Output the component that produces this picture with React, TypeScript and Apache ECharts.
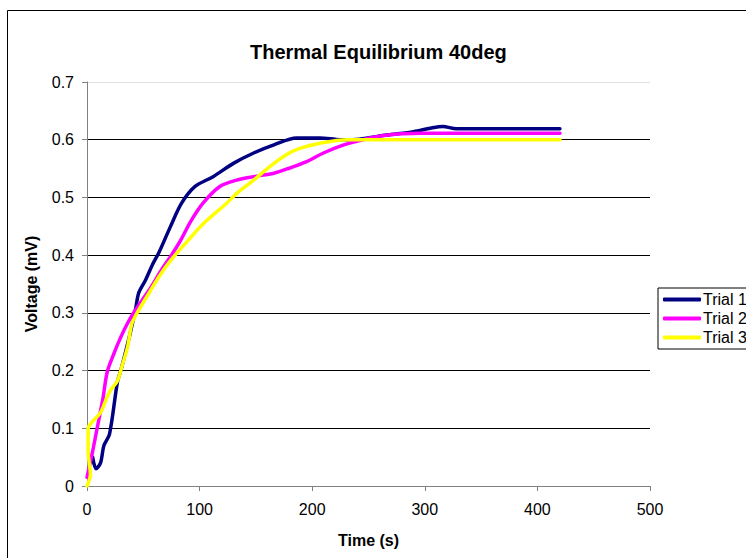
import React, { useEffect, useRef } from "react";
import * as echarts from "echarts";

const chartTitle = "Thermal Equilibrium 40deg";
const xName = "Time (s)";
const yName = "Voltage (mV)";
const seriesNames = ["Trial 1", "Trial 2", "Trial 3"];
const seriesColors = ["#000080", "#FF00FF", "#FFFF00"];

const trial1Time = [5, 8, 12, 15, 20, 27, 30, 34, 39, 43, 46, 52, 58, 64, 74, 84, 96, 112, 130, 148, 166, 186, 207, 225, 242, 266, 290, 305, 316, 328, 420];
const trial1Volt = [0.05, 0.03, 0.04, 0.07, 0.09, 0.18, 0.2, 0.23, 0.27, 0.305, 0.335, 0.357, 0.383, 0.405, 0.449, 0.49, 0.519, 0.536, 0.559, 0.577, 0.591, 0.603, 0.603, 0.600, 0.601, 0.608, 0.614, 0.620, 0.623, 0.619, 0.619];

const trial2Time = [0, 5, 9, 14, 18, 24, 30, 36, 42, 49, 57, 66, 75, 83, 92, 103, 118, 133, 148, 166, 180, 195, 210, 228, 245, 262, 296, 420];
const trial2Volt = [0.015, 0.06, 0.10, 0.15, 0.198, 0.23, 0.258, 0.282, 0.302, 0.322, 0.345, 0.374, 0.40, 0.425, 0.458, 0.49, 0.519, 0.53, 0.536, 0.542, 0.551, 0.562, 0.577, 0.591, 0.6, 0.607, 0.611, 0.611];

const trial3Time = [0, 3, 1, 1, 6, 12, 17, 21, 27, 31, 36, 40, 46, 55, 64, 74, 85, 102, 124, 133, 148, 162, 177, 189, 207, 231, 420];
const trial3Volt = [0, 0.02, 0.06, 0.1, 0.114, 0.127, 0.15, 0.166, 0.182, 0.207, 0.241, 0.282, 0.305, 0.334, 0.363, 0.39, 0.415, 0.452, 0.49, 0.507, 0.53, 0.553, 0.574, 0.585, 0.594, 0.6, 0.6];

const xTicks = { min: 0, max: 500, interval: 100 };
const yTicks = { min: 0, max: 0.7, interval: 0.1 };

const FONT = "'Liberation Sans', Arial, sans-serif";

export default function App() {
  const ref = useRef<HTMLDivElement>(null);
  useEffect(() => {
    if (!ref.current) return;
    const chart = echarts.init(ref.current, undefined, { renderer: "svg" });
    const times = [trial1Time, trial2Time, trial3Time];
    const volts = [trial1Volt, trial2Volt, trial3Volt];
    chart.setOption({
      animation: false,
      backgroundColor: "#fff",
      title: {
        text: chartTitle,
        left: 250,
        top: 42,
        textStyle: { fontFamily: FONT, fontSize: 20, fontWeight: "bold", color: "#000" },
        padding: 0,
      },
      graphic: [
        {
          type: "rect",
          shape: { x: 7.5, y: 10.5, width: 800, height: 600 },
          style: { fill: "none", stroke: "#000", lineWidth: 1 },
          z: -1,
          silent: true,
        },
      ],
      legend: {
        orient: "vertical",
        left: 658,
        top: 288,
        padding: [2, 40, 2, 5],
        itemGap: 0,
        itemWidth: 38,
        itemHeight: 4,
        icon: "roundRect",
        borderColor: "#000",
        borderWidth: 1,
        backgroundColor: "#fff",
        textStyle: { fontFamily: FONT, fontSize: 16, lineHeight: 19, color: "#000", padding: [0, 0, 0, -3] },
        data: seriesNames,
      },
      grid: { left: 87, right: 96, top: 82, bottom: 72, containLabel: false },
      xAxis: {
        type: "value",
        ...xTicks,
        name: xName,
        nameLocation: "middle",
        nameGap: 46,
        nameTextStyle: { fontFamily: FONT, fontSize: 16, fontWeight: "bold", color: "#000" },
        axisLine: { show: true, lineStyle: { color: "#808080", width: 1 } },
        axisTick: { show: true, length: 5, lineStyle: { color: "#808080" } },
        axisLabel: { fontFamily: FONT, fontSize: 16, color: "#000", margin: 15 },
        splitLine: { show: false },
      },
      yAxis: {
        type: "value",
        ...yTicks,
        name: yName,
        nameLocation: "middle",
        nameGap: 48,
        nameTextStyle: { fontFamily: FONT, fontSize: 16, fontWeight: "bold", color: "#000" },
        axisLine: { show: true, lineStyle: { color: "#808080", width: 1 } },
        axisTick: { show: true, length: 5, lineStyle: { color: "#808080" } },
        axisLabel: { fontFamily: FONT, fontSize: 16, color: "#000", margin: 13 },
        splitLine: {
          show: true,
          lineStyle: { color: ["#000", "#000", "#000", "#000", "#000", "#000", "#000", "#e0e0e0"], width: 1 },
        },
      },
      series: seriesNames.map((name, i) => ({
        name,
        type: "line",
        showSymbol: false,
        symbol: "none",
        smooth: 0.3,
        color: seriesColors[i],
        lineStyle: { color: seriesColors[i], width: 3.5, cap: "round", join: "round" },
        data: times[i].map((t, j) => [t, volts[i][j]]),
        z: 3 + i,
      })),
    });
    return () => chart.dispose();
  }, []);
  return (
    <div
      ref={ref}
      style={{ position: "fixed", left: 0, top: 0, width: 746, height: 558 }}
    />
  );
}
